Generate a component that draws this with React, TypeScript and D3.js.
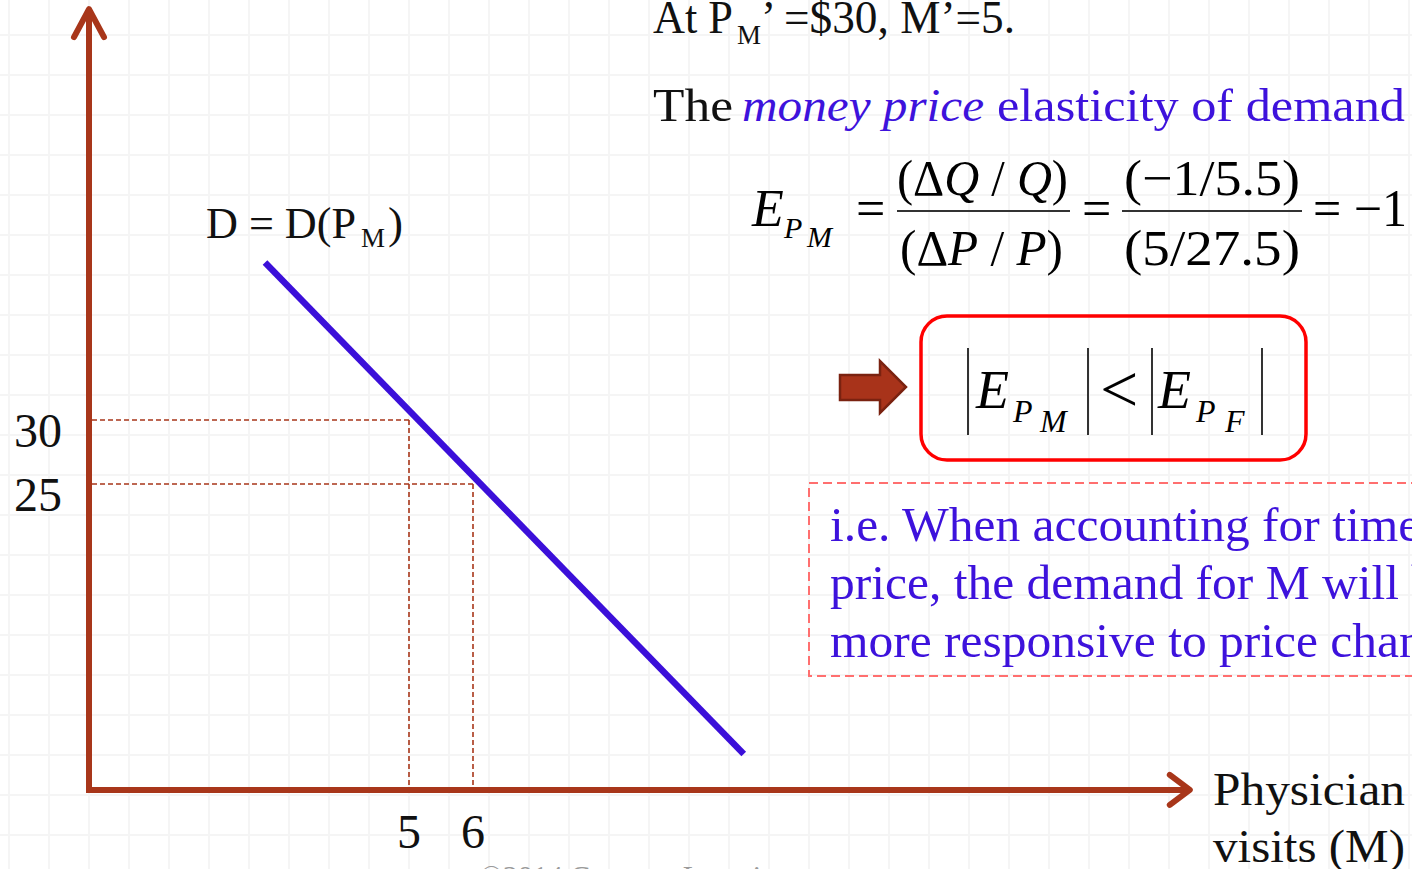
import React from "react";
import * as d3 from "d3";

// values
const priceTicks = [30, 25];
const visitTicks = [5, 6];
const guidePoints = [
  { m: 5, p: 30 },
  { m: 6, p: 25 }
];
const demandM = [2.75, 10.23];
const demandP = [42.3, 3.9];
const axisM = [0, 17.2];
const axisP = [1.1, 62.1];
const noteLines = [
  "i.e. When accounting for time",
  "price, the demand for M will be",
  "more responsive to price changes."
];

const W = 1412,
  H = 869;

const RUST = "#a8361a";
const BLUE = "#3b0fd9";
const TEXTBLUE = "#3d12dc";
const SERIF = "'Liberation Serif', 'Times New Roman', serif";

export default function App() {
  const x = d3.scaleLinear().domain([5, 6]).range([409, 473]);
  const y = d3.scaleLinear().domain([25, 30]).range([484, 420]);

  const x0 = x(axisM[0]),
    x1 = x(axisM[1]),
    y0 = y(axisP[0]),
    y1 = y(axisP[1]);

  const demand = d3
    .line<number>()
    .x((d, i) => x(demandM[i]))
    .y(d => y(d))(demandP);

  const gridX = d3.range(9, W, 40);
  const gridY = d3.range(-5, H, 40);

  return (
    <svg
      width={W}
      height={H}
      style={{ position: "fixed", left: 0, top: 0, background: "#fff" }}
      fontFamily={SERIF}
    >
      {/* faint slide grid */}
      <g stroke="#f5f5f5" strokeWidth={2}>
        {gridX.map(g => (
          <line key={"gx" + g} x1={g} x2={g} y1={0} y2={H} />
        ))}
        {gridY.map(g => (
          <line key={"gy" + g} x1={0} x2={W} y1={g} y2={g} />
        ))}
      </g>

      {/* dashed guides */}
      <g stroke={RUST} strokeWidth={1.6} strokeDasharray="5,3" fill="none">
        {guidePoints.map((d, i) => (
          <g key={i}>
            <line x1={x0 + 3} x2={x(d.m)} y1={y(d.p)} y2={y(d.p)} />
            <line x1={x(d.m)} x2={x(d.m)} y1={y(d.p)} y2={y0} />
          </g>
        ))}
      </g>

      {/* axes */}
      <g stroke={RUST} strokeWidth={6} fill="none" strokeLinecap="round" strokeLinejoin="round">
        <line x1={x0} x2={x0} y1={y0 + 3} y2={y1} strokeLinecap="butt" />
        <line x1={x0 - 3} x2={x1} y1={y0} y2={y0} strokeLinecap="butt" />
        <polyline points={`${x0 - 15},${y1 + 28} ${x0},${y1} ${x0 + 15},${y1 + 28}`} />
        <polyline points={`${x1 - 20},${y0 - 15} ${x1},${y0} ${x1 - 20},${y0 + 15}`} />
      </g>

      {/* demand curve */}
      <path d={demand || ""} stroke={BLUE} strokeWidth={6.5} fill="none" />

      {/* tick labels */}
      {priceTicks.map(p => (
        <text key={p} x={38} y={y(p) + 27} fontSize={48} textAnchor="middle" fill="#111">
          {p}
        </text>
      ))}
      {visitTicks.map(m => (
        <text key={m} x={x(m)} y={848} fontSize={48} textAnchor="middle" fill="#111">
          {m}
        </text>
      ))}

      {/* curve label */}
      <text x={206} y={238} fontSize={45} fill="#111" textLength={150} lengthAdjust="spacingAndGlyphs">
        D = D(P
      </text>
      <text x={361} y={247} fontSize={27} fill="#111">M</text>
      <text x={388} y={238} fontSize={45} fill="#111">)</text>

      {/* x axis title */}
      <text x={1213} y={805} fontSize={46} fill="#111" textLength={192} lengthAdjust="spacingAndGlyphs">
        Physician
      </text>
      <text x={1213} y={862} fontSize={46} fill="#111" textLength={192} lengthAdjust="spacingAndGlyphs">
        visits (M)
      </text>

      {/* headline */}
      <text x={653} y={33} fontSize={46} fill="#111" textLength={80} lengthAdjust="spacingAndGlyphs">
        At P
      </text>
      <text x={737} y={44} fontSize={28} fill="#111" textLength={24} lengthAdjust="spacingAndGlyphs">
        M
      </text>
      <text x={761} y={33} fontSize={46} fill="#111" textLength={254} lengthAdjust="spacingAndGlyphs">
        ’ =$30, M’=5.
      </text>

      <text x={653} y={121} fontSize={46} fill="#111" textLength={80} lengthAdjust="spacingAndGlyphs">
        The
      </text>
      <text x={742} y={121} fontSize={46} fill={TEXTBLUE} fontStyle="italic" textLength={242} lengthAdjust="spacingAndGlyphs">
        money price
      </text>
      <text x={997} y={121} fontSize={46} fill={TEXTBLUE} textLength={408} lengthAdjust="spacingAndGlyphs">
        elasticity of demand
      </text>

      {/* elasticity formula */}
      <g fill="#000">
        <text x={752} y={226} fontSize={52} fontStyle="italic">E</text>
        <text x={784} y={238} fontSize={30} fontStyle="italic">P</text>
        <text x={807} y={247} fontSize={30} fontStyle="italic">M</text>
        <text x={856} y={226} fontSize={52}>=</text>

        <text x={897} y={195} fontSize={50} textLength={171} lengthAdjust="spacingAndGlyphs">
          (Δ<tspan fontStyle="italic">Q</tspan> / <tspan fontStyle="italic">Q</tspan>)
        </text>
        <line x1={897} x2={1070} y1={211} y2={211} stroke="#333" strokeWidth={2} />
        <text x={900} y={265} fontSize={50} textLength={163} lengthAdjust="spacingAndGlyphs">
          (Δ<tspan fontStyle="italic">P</tspan> / <tspan fontStyle="italic">P</tspan>)
        </text>

        <text x={1082} y={226} fontSize={52}>=</text>

        <text x={1124} y={195} fontSize={50} textLength={176} lengthAdjust="spacingAndGlyphs">
          (−1/5.5)
        </text>
        <line x1={1122} x2={1302} y1={211} y2={211} stroke="#333" strokeWidth={2} />
        <text x={1124} y={265} fontSize={50} textLength={176} lengthAdjust="spacingAndGlyphs">
          (5/27.5)
        </text>

        <text x={1313} y={226} fontSize={52} textLength={94} lengthAdjust="spacingAndGlyphs">
          = −1
        </text>
      </g>

      {/* block arrow */}
      <path
        d="M840,375 L880,375 L880,361 L906,387 L880,413 L880,400 L840,400 Z"
        fill="#a8331a"
        stroke="#7a2210"
        strokeWidth={2.5}
        strokeLinejoin="miter"
      />

      {/* comparison box */}
      <rect x={921} y={316} width={385} height={144} rx={26} fill="none" stroke="#ff0000" strokeWidth={3.5} />
      <g stroke="#000" strokeWidth={1.6}>
        <line x1={968} x2={968} y1={348} y2={435} />
        <line x1={1088} x2={1088} y1={348} y2={435} />
        <line x1={1152} x2={1152} y1={348} y2={435} />
        <line x1={1262} x2={1262} y1={348} y2={435} />
      </g>
      <g fill="#000" fontStyle="italic">
        <text x={976} y={408} fontSize={54}>E</text>
        <text x={1013} y={422} fontSize={32}>P</text>
        <text x={1040} y={432} fontSize={32}>M</text>
        <text x={1100} y={412} fontSize={68} fontStyle="normal">&lt;</text>
        <text x={1158} y={408} fontSize={54}>E</text>
        <text x={1196} y={422} fontSize={32}>P</text>
        <text x={1225} y={432} fontSize={32}>F</text>
      </g>

      {/* note box */}
      <rect
        x={809}
        y={483}
        width={640}
        height={193}
        fill="none"
        stroke="#ff6f6f"
        strokeWidth={2}
        strokeDasharray="9,5"
      />
      {noteLines.map((t, i) => (
        <text key={i} x={830} y={541 + i * 58} fontSize={49.5} fill={TEXTBLUE}>
          {t}
        </text>
      ))}

      {/* footer, mostly cut off */}
      <text x={480} y={886} fontSize={30} fill="#9a9a9a">
        ©2014 Cengage Learning
      </text>
    </svg>
  );
}
